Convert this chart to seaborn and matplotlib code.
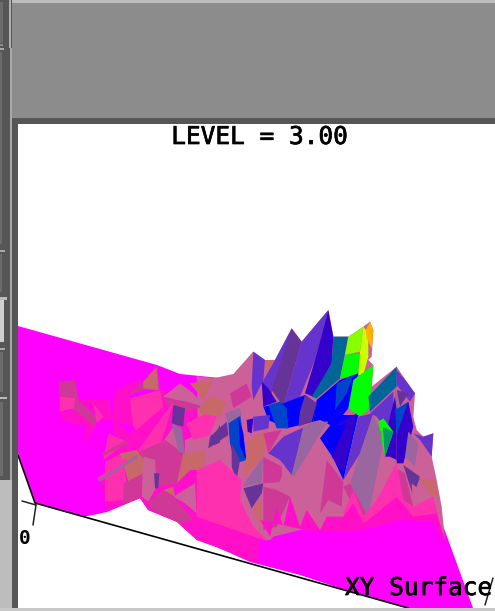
import numpy as np
import matplotlib
matplotlib.use("Agg")
import matplotlib.pyplot as plt
import matplotlib.patheffects as pe
import seaborn as sns

# ---------- labels ----------
TITLE = "LEVEL = 3.00"
AXIS_NAME = "XY Surface"
ORIGIN_TICK = "0"

# ---------- colour bands of the height scale ----------
BANDS = dict(
    magenta="#ff00ff", fuchsia="#ff10c8", hot="#ff30b0", rose="#d03898",
    mauve="#cc6099", salmon="#c86868", dusk="#9966a0", purple="#663399",
    violet="#6633cc", indigo="#3300cc", blue="#0000ff", azure="#0044cc",
    teal="#006699", jade="#009966", green="#00ff00", lime="#88ff00",
    citron="#ccff00", amber="#ffb000",
)

# ---------- surface outline, picture pixels ----------
SHEET = [(18, 326), (157, 365), (180, 374), (220, 378), (320, 400), (430, 470), (441, 520), (473, 608),
         (408, 608), (345, 590), (300, 575), (250, 562), (217, 547), (197, 540), (177, 522),
         (148, 510), (140, 498), (107, 512), (83, 517), (35, 503), (18, 453)]

# ridge outline, in 3x units of the region that starts at (200, 300)
RIDGE = [(-10, 228), (40, 235), (100, 222), (160, 155), (195, 180), (225, 180), (275, 85), (305, 125),
         (385, 30), (400, 110), (445, 110), (490, 80), (510, 65), (520, 90), (515, 170), (505, 180),
         (520, 195), (515, 260), (590, 200), (620, 245), (645, 280), (640, 350), (650, 390), (670, 410),
         (700, 400), (695, 470), (710, 540), (725, 620), (735, 720), (500, 720), (200, 720), (0, 640)]

RIDGE_FACETS = [
    ("violet", [(160, 155), (195, 180), (190, 240), (160, 300), (155, 260)]),
    ("salmon", [(195, 180), (225, 180), (195, 225)]),
    ("violet", [(185, 250), (225, 180), (275, 85), (255, 170), (215, 280)]),
    ("purple", [(275, 85), (305, 125), (250, 320), (215, 270)]),
    ("violet", [(305, 125), (385, 30), (345, 180), (300, 290), (250, 320)]),
    ("indigo", [(385, 30), (400, 110), (395, 190), (340, 290), (315, 280), (345, 180)]),
    ("teal", [(400, 110), (445, 110), (420, 235), (350, 295), (335, 290), (395, 190)]),
    ("lime", [(445, 110), (490, 80), (480, 155), (435, 165)]),
    ("green", [(435, 165), (478, 160), (475, 225), (420, 235)]),
    ("citron", [(490, 80), (505, 100), (505, 170), (490, 225), (475, 225), (480, 155)]),
    ("amber", [(497, 90), (510, 65), (520, 90), (515, 145), (500, 115)]),
    ("indigo", [(185, 245), (205, 265), (230, 305), (190, 320)]),
    ("blue", [(190, 320), (250, 310), (315, 285), (350, 310), (340, 365), (260, 385), (205, 360)]),
    ("azure", [(205, 315), (240, 305), (260, 325), (265, 385), (230, 385)]),
    ("blue", [(340, 365), (350, 300), (420, 240), (475, 220), (445, 325), (400, 380), (360, 360)]),
    ("azure", [(410, 250), (460, 225), (440, 280), (405, 330)]),
    ("purple", [(315, 285), (350, 310), (335, 365), (295, 380), (300, 335)]),
    ("green", [(460, 240), (520, 195), (515, 260), (505, 330), (480, 350), (445, 325)]),
    ("teal", [(505, 290), (590, 200), (590, 260), (510, 335)]),
    ("violet", [(590, 210), (620, 245), (645, 280), (630, 305), (590, 255)]),
    ("purple", [(590, 270), (625, 280), (600, 320)]),
    ("dusk", [(585, 265), (600, 325), (585, 340)]),
    ("violet", [(510, 340), (580, 275), (580, 320), (560, 390), (530, 350)]),
    ("indigo", [(560, 390), (585, 290), (590, 330), (590, 480), (570, 470), (555, 470)]),
    ("azure", [(585, 330), (625, 305), (620, 370), (590, 405)]),
    ("indigo", [(590, 405), (625, 305), (640, 380), (610, 490), (590, 490)]),
    ("green", [(535, 365), (550, 355), (580, 395), (555, 470), (545, 420)]),
    ("jade", [(548, 380), (580, 395), (555, 470)]),
    ("violet", [(640, 400), (670, 410), (700, 400), (695, 470), (660, 420)]),
    ("dusk", [(625, 395), (655, 430), (645, 500), (615, 470)]),
    ("mauve", [(655, 430), (695, 470), (690, 525), (645, 500)]),
    ("salmon", [(660, 535), (705, 540), (715, 600), (680, 570)]),
]

MIDDLE_FACETS = [
    ("violet", [(205, 460), (250, 410), (315, 380), (275, 525), (240, 480)]),
    ("dusk", [(310, 380), (345, 365), (385, 365), (355, 410), (285, 530), (275, 525)]),
    ("mauve", [(355, 410), (430, 540), (430, 570), (360, 640), (300, 600), (285, 525)]),
    ("blue", [(360, 415), (415, 345), (475, 345), (430, 540), (400, 475)]),
    ("indigo", [(400, 380), (470, 340), (430, 520), (395, 470), (440, 370)]),
    ("violet", [(475, 350), (520, 340), (480, 460), (430, 540)]),
    ("dusk", [(520, 345), (545, 400), (545, 450), (505, 650), (450, 550), (480, 460)]),
    ("rose", [(430, 560), (450, 550), (505, 650), (470, 640)]),
    ("mauve", [(550, 480), (575, 500), (600, 620), (530, 640)]),
    ("rose", [(580, 500), (615, 520), (640, 620), (600, 630)]),
    ("purple", [(610, 495), (660, 530), (640, 590)]),
    ("mauve", [(635, 550), (660, 570), (690, 640), (640, 640)]),
    ("azure", [(85, 370), (120, 340), (130, 410), (140, 480), (105, 490), (90, 430)]),
    ("blue", [(115, 350), (130, 400), (138, 480), (120, 440)]),
    ("indigo", [(140, 360), (160, 355), (155, 400), (143, 395)]),
    ("violet", [(160, 350), (210, 345), (205, 385), (160, 395)]),
    ("purple", [(30, 410), (80, 365), (85, 405), (25, 445)]),
    ("salmon", [(0, 320), (30, 290), (80, 305), (60, 350), (0, 340)]),
    ("rose", [(90, 280), (140, 250), (155, 290), (100, 325)]),
    ("mauve", [(100, 225), (160, 155), (150, 240), (100, 270)]),
    ("dusk", [(75, 340), (120, 325), (125, 345), (85, 370)]),
    ("salmon", [(145, 420), (200, 390), (190, 470), (130, 530)]),
    ("rose", [(190, 400), (245, 390), (205, 460)]),
    ("rose", [(190, 470), (245, 500), (250, 545), (190, 550)]),
    ("mauve", [(250, 490), (290, 580), (230, 570), (245, 530)]),
    ("dusk", [(125, 560), (190, 470), (185, 550)]),
    ("purple", [(130, 565), (190, 550), (185, 580), (155, 625)]),
    ("purple", [(95, 430), (120, 480), (110, 540), (95, 500)]),
    ("hot", [(-10, 510), (60, 480), (125, 540), (120, 600), (160, 680), (205, 725), (-10, 650)]),
    ("mauve", [(40, 440), (85, 410), (95, 500), (60, 480)]),
    ("rose", [(190, 560), (230, 570), (270, 590), (230, 680), (190, 690)]),
    ("salmon", [(160, 620), (185, 600), (180, 690)]),
    ("rose", [(380, 480), (430, 545), (425, 620), (385, 600), (360, 640)]),
    ("mauve", [(295, 610), (360, 640), (385, 610), (380, 690), (310, 690)]),
    ("hot", [(430, 640), (460, 570), (490, 650), (530, 600), (590, 490), (610, 600), (640, 620),
             (700, 590), (725, 690), (450, 690)]),
    ("fuchsia", [(180, 660), (210, 710), (230, 620), (250, 680), (270, 590), (300, 680), (320, 630),
                 (360, 690), (380, 650), (430, 650), (460, 610), (490, 670), (530, 640), (590, 590),
                 (640, 650), (710, 640), (735, 720), (450, 720)]),
    ("magenta", [(200, 730), (220, 710), (300, 690), (450, 695), (530, 680), (600, 660), (700, 665),
                 (740, 745), (400, 745)]),
]

# underlay of the flank, in 3x units of the region that starts at (0, 320)
FLANK_BASE = [(320, 575), (420, 535), (445, 570), (530, 605), (590, 660), (650, 682), (770, 730),
              (790, 600), (790, 260), (480, 210), (400, 330), (330, 400), (300, 480), (315, 545)]

FLANK_FACETS = [
    ("rose", [(175, 185), (225, 180), (235, 240), (290, 290), (285, 320), (225, 280), (180, 240)]),
    ("hot", [(180, 230), (225, 235), (222, 265), (178, 275)]),
    ("fuchsia", [(178, 280), (225, 270), (285, 320), (260, 370), (255, 320), (190, 300)]),
    ("fuchsia", [(240, 240), (330, 240), (335, 300), (310, 300)]),
    ("hot", [(280, 250), (310, 290), (290, 310)]),
    ("fuchsia", [(345, 215), (410, 180), (430, 190), (390, 230), (400, 320), (335, 300)]),
    ("rose", [(385, 225), (430, 185), (470, 140), (480, 210), (430, 210)]),
    ("salmon", [(430, 185), (470, 140), (475, 210), (430, 205)]),
    ("hot", [(390, 235), (480, 210), (490, 260), (410, 330), (400, 320)]),
    ("mauve", [(490, 230), (540, 190), (580, 220), (610, 260), (550, 245)]),
    ("salmon", [(570, 190), (640, 180), (610, 240)]),
    ("rose", [(490, 235), (560, 245), (610, 260), (555, 275), (510, 260)]),
    ("hot", [(415, 390), (520, 245), (480, 380), (430, 415)]),
    ("rose", [(415, 395), (500, 360), (520, 320), (550, 400), (530, 490), (470, 500)]),
    ("mauve", [(480, 380), (520, 320), (550, 400), (495, 360)]),
    ("purple", [(520, 255), (555, 265), (550, 320), (515, 310)]),
    ("dusk", [(515, 310), (545, 325), (555, 400), (535, 395)]),
    ("fuchsia", [(340, 300), (400, 350), (365, 365), (340, 340)]),
    ("hot", [(325, 340), (380, 365), (310, 420)]),
    ("rose", [(305, 400), (380, 360), (385, 370), (310, 408)]),
    ("hot", [(315, 425), (365, 400), (380, 490), (370, 540), (315, 545)]),
    ("salmon", [(360, 400), (410, 390), (435, 425), (430, 460), (385, 485)]),
    ("rose", [(370, 490), (430, 460), (420, 530), (370, 555)]),
    ("mauve", [(430, 410), (465, 420), (470, 500), (445, 545), (425, 530)]),
    ("hot", [(290, 475), (375, 415), (385, 425), (300, 485)]),
    ("dusk", [(295, 480), (410, 405), (415, 412), (300, 485)]),
    ("purple", [(462, 460), (478, 460), (475, 505), (465, 505)]),
    ("rose", [(445, 545), (490, 510), (530, 540), (580, 600), (540, 610), (450, 565)]),
    ("salmon", [(490, 510), (520, 500), (525, 530)]),
    ("mauve", [(520, 530), (585, 490), (590, 580), (555, 550)]),
    ("salmon", [(530, 490), (550, 400), (620, 370), (610, 450), (570, 450)]),
    ("mauve", [(555, 360), (630, 330), (620, 390), (555, 400)]),
    ("hot", [(560, 310), (620, 280), (660, 260), (630, 345), (580, 360)]),
    ("purple", [(625, 380), (660, 315), (660, 370)]),
    ("fuchsia", [(560, 610), (600, 660), (660, 682), (660, 640), (590, 620)]),
]

# axis frame
FRONT_EDGE_X = [18, 35, 408]
FRONT_EDGE_Y = [455, 503, 608]
TICK_LINES = [([22, 36], [501, 505]), ([36, 33], [505, 525]), ([493, 485], [578, 605])]

# window furniture: x0, y0, x1, y1, colour
CHROME = [
    (0, 0, 495, 120, "#8c8c8c"), (0, 0, 495, 3, "#bdbdbd"), (0, 0, 12, 611, "#565656"),
    (9, 0, 11, 48, "#b0b0b0"), (0, 480, 12, 611, "#bdbdbd"), (12, 118, 495, 124, "#565656"),
    (12, 118, 18, 608, "#565656"), (0, 608, 495, 611, "#c8c8c8"),
    (10, 48, 12, 480, "#a8a8a8"), (0, 300, 4, 342, "#d0d0d0"), (0, 48, 4, 50, "#aaaaaa"),
    (0, 250, 5, 252, "#aaaaaa"), (0, 297, 7, 300, "#bbbbbb"), (0, 348, 5, 350, "#aaaaaa"),
    (0, 397, 7, 399, "#bbbbbb"), (0, 44, 3, 46, "#8c8c8c"), (0, 2, 3, 43, "#6c6c6c"),
    (0, 52, 2, 244, "#6c6c6c"), (0, 254, 2, 292, "#6c6c6c"), (0, 352, 3, 392, "#6c6c6c"),
    (0, 402, 3, 476, "#6c6c6c"),
]


def shifted(points, left, top):
    pts = np.asarray(points, dtype=float)
    return pts[:, 0] / 3 + left, pts[:, 1] / 3 + top


sns.set_theme(style="white")
plt.rcParams["font.family"] = ["DejaVu Sans Mono"]

fig = plt.figure(figsize=(4.95, 6.11), dpi=100)
ax = fig.add_axes([0, 0, 1, 1])
ax.set_xlim(0, 495)
ax.set_ylim(611, 0)
ax.axis("off")
fig.patch.set_facecolor("white")

for x0, y0, x1, y1, col in CHROME:
    ax.fill([x0, x1, x1, x0], [y0, y0, y1, y1], color=col, lw=0, zorder=5)

sheet = np.array(SHEET, dtype=float)
ax.fill(sheet[:, 0], sheet[:, 1], color=BANDS["magenta"], lw=0, zorder=1)
bx, by = shifted(FLANK_BASE, 0, 320)
ax.fill(bx, by, color=BANDS["fuchsia"], lw=0, zorder=1.1)
rx, ry = shifted(RIDGE, 200, 300)
ax.fill(rx, ry, color=BANDS["mauve"], lw=0, zorder=1.2)

for facets, (left, top), z in ((FLANK_FACETS, (0, 320), 1.6),
                               (RIDGE_FACETS, (200, 300), 1.4),
                               (MIDDLE_FACETS, (200, 300), 1.8)):
    for band, pts in facets:
        fx, fy = shifted(pts, left, top)
        ax.fill(fx, fy, color=BANDS[band], lw=0, zorder=z)

sns.lineplot(x=FRONT_EDGE_X, y=FRONT_EDGE_Y, sort=False, estimator=None, ax=ax,
             color="black", lw=1.2, zorder=3, dashes=False)
for tx, ty in TICK_LINES:
    sns.lineplot(x=tx, y=ty, sort=False, estimator=None, ax=ax, color="#222222", lw=1.1, zorder=3)

medium = [pe.withStroke(linewidth=0.5, foreground="black")]
ax.text(259, 137, TITLE, ha="center", va="center", fontsize=17.6, color="black", zorder=6, path_effects=medium)
ax.text(345, 588, AXIS_NAME, ha="left", va="center", fontsize=17.6, color="black", zorder=6, path_effects=medium)
ax.text(25, 538, ORIGIN_TICK, ha="center", va="center", fontsize=14, fontweight="bold", color="black", zorder=6)

fig.savefig("out.png", dpi=100)
